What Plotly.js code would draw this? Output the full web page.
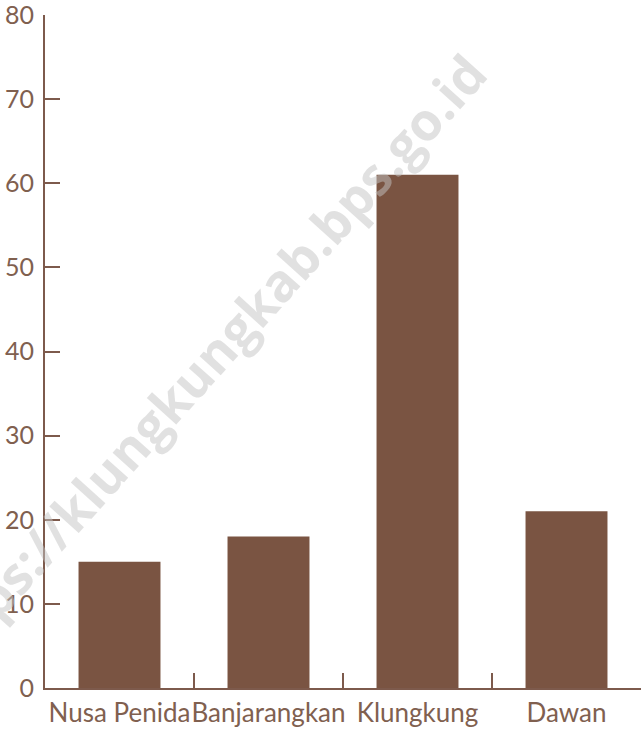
<!DOCTYPE html>
<html>
<head>
<meta charset="utf-8">
<script src="https://cdn.plot.ly/plotly-3.0.1.min.js"></script>
<style>html,body{margin:0;padding:0;background:#fff;}#chart{width:641px;height:729px;}</style>
</head>
<body>
<div id="chart"></div>
<script>
const categories = ["Nusa Penida", "Banjarangkan", "Klungkung", "Dawan"];
const values = [15, 18, 61, 21];
const yTicks = [0, 10, 20, 30, 40, 50, 60, 70, 80];
const watermark = "https://klungkungkab.bps.go.id";

const brown = "#7a5442";
const axisColor = "#7d5a4c";
const textColor = "#80604f";

const data = [{
  type: "bar",
  x: categories,
  y: values,
  marker: {color: brown, line: {width: 0}},
  width: 0.55,
  hoverinfo: "none"
}];

const layout = {
  width: 641, height: 729,
  margin: {l: 45, r: 0, t: 15, b: 41, pad: 0},
  paper_bgcolor: "#fff", plot_bgcolor: "#fff",
  showlegend: false,
  font: {family: "Lato, 'Noto Sans', sans-serif", color: textColor, size: 25},
  xaxis: {
    type: "category",
    showline: true, linecolor: axisColor, linewidth: 2,
    ticks: "inside", tickson: "boundaries", ticklen: 15, tickwidth: 2, tickcolor: axisColor,
    showgrid: false, zeroline: false,
    tickangle: 0,
    tickfont: {size: 26, color: textColor},
    ticklabelstandoff: 1,
    ticklabeloverflow: "allow"
  },
  yaxis: {
    range: [0, 80],
    tickvals: yTicks,
    showline: true, linecolor: axisColor, linewidth: 2,
    ticks: "inside", ticklen: 15, tickwidth: 2, tickcolor: axisColor,
    showgrid: false, zeroline: false,
    tickfont: {size: 25, color: textColor},
    ticklabelstandoff: 4,
    ticklabeloverflow: "allow"
  },
  annotations: [{
    text: "<b>" + watermark + "</b>",
    xref: "paper", yref: "paper",
    x: 0.265, y: 0.48,
    xanchor: "center", yanchor: "middle",
    showarrow: false,
    textangle: -48,
    font: {family: "'Open Sans', sans-serif", size: 52, color: "rgba(195,195,195,0.5)"}
  }]
};

Plotly.newPlot("chart", data, layout, {displayModeBar: false, staticPlot: true});
</script>
</body>
</html>
